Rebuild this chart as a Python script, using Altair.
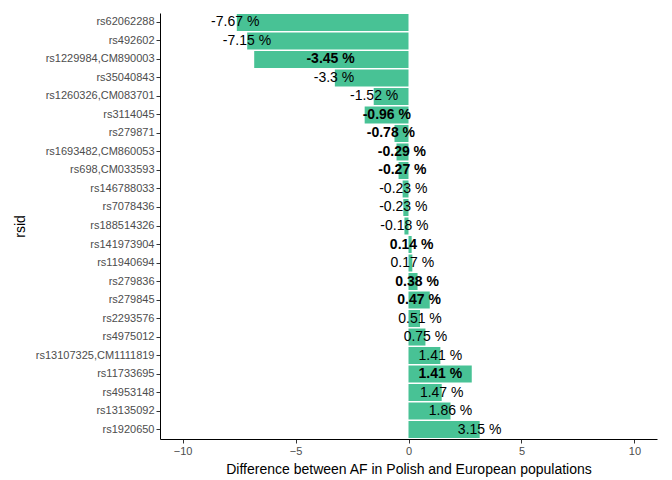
import altair as alt
import pandas as pd

rsid = ["rs62062288", "rs492602", "rs1229984,CM890003", "rs35040843",
        "rs1260326,CM083701", "rs3114045", "rs279871", "rs1693482,CM860053",
        "rs698,CM033593", "rs146788033", "rs7078436", "rs188514326",
        "rs141973904", "rs11940694", "rs279836", "rs279845", "rs2293576",
        "rs4975012", "rs13107325,CM1111819", "rs11733695", "rs4953148",
        "rs13135092", "rs1920650"]
bar_value = [-7.6, -7.14, -6.83, -3.26, -1.54, -1.94, -0.62, -0.53, -0.44,
             -0.26, -0.23, -0.18, 0.14, 0.17, 0.4, 0.94, 0.51, 0.75, 1.41,
             2.8, 1.47, 1.86, 3.15]
label_value = [-7.67, -7.15, -3.45, -3.3, -1.52, -0.96, -0.78, -0.29, -0.27,
               -0.23, -0.23, -0.18, 0.14, 0.17, 0.38, 0.47, 0.51, 0.75, 1.41,
               1.41, 1.47, 1.86, 3.15]
doubled = [False, False, True, False, False, True, True, True, True, False,
           False, False, True, False, True, True, False, False, False, True,
           False, False, False]

df = pd.DataFrame({"rsid": rsid, "bar": bar_value, "lab": label_value,
                   "bold": doubled})
df["text"] = df["lab"].map(lambda v: f"{v:g} %")

xs = alt.Scale(domain=[-11, 11], nice=False, zero=False)
ys = alt.Y("rsid:N", sort=rsid, title="rsid",
           scale=alt.Scale(paddingInner=0.08, paddingOuter=0.05))

bars = alt.Chart(df).mark_bar(color="#48C295").encode(
    x=alt.X("bar:Q", scale=xs, title="Difference between AF in Polish and European populations",
            axis=alt.Axis(values=[-10, -5, 0, 5, 10])),
    x2=alt.datum(0),
    y=ys,
)

text_plain = alt.Chart(df).transform_filter("!datum.bold").mark_text(
    fontSize=14, font="Liberation Sans", color="black"
).encode(x=alt.X("lab:Q", scale=xs), y=ys, text="text:N")

text_bold = alt.Chart(df).transform_filter("datum.bold").mark_text(
    fontSize=14, font="Liberation Sans", color="black", fontWeight="bold"
).encode(x=alt.X("lab:Q", scale=xs), y=ys, text="text:N")

chart = alt.layer(bars, text_plain, text_bold).properties(width=497, height=426).configure_view(
    stroke=None
).configure_axis(
    grid=False, domainColor="black", tickColor="#333333", labelColor="#4d4d4d",
    labelFontSize=11, titleFontSize=14, titleFontWeight="normal", titleColor="black",
    labelFont="Liberation Sans", titleFont="Liberation Sans", tickSize=4,
).configure_axisY(titlePadding=8).configure_axisX(titlePadding=6)

chart.save("out.html", embed_options={"renderer": "svg", "actions": False})
